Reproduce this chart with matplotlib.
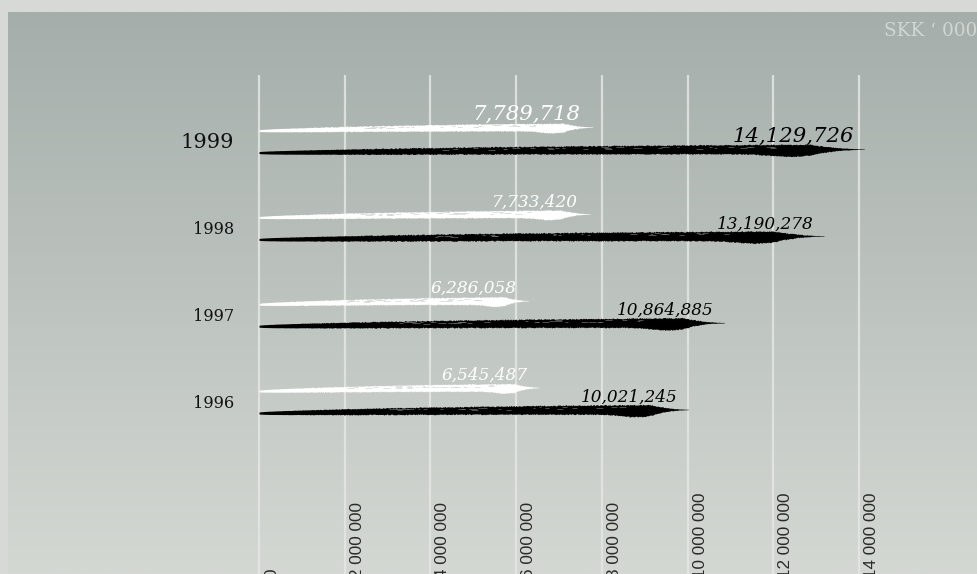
import numpy as np
import matplotlib
matplotlib.use("Agg")
import matplotlib.pyplot as plt
from matplotlib import transforms

# ---- data -------------------------------------------------------------
years = ["1996", "1997", "1998", "1999"]
light_values = [6545487, 6286058, 7733420, 7789718]      # white strokes
dark_values = [10021245, 10864885, 13190278, 14129726]   # black strokes
tick_values = [0, 2000000, 4000000, 6000000, 8000000, 10000000, 12000000, 14000000]
tick_labels = ["0", "2 000 000", "4 000 000", "6 000 000", "8 000 000",
               "10 000 000", "12 000 000", "14 000 000"]
unit_label = "SKK \u2018 000"

# ---- canvas -----------------------------------------------------------
W, H, DPI = 978, 574, 100
fig = plt.figure(figsize=(W / DPI, H / DPI), dpi=DPI, facecolor="#d7d9d6")

# gradient panel
bg = fig.add_axes([8 / W, 0, (W - 8) / W, (H - 12) / H])
top_c = np.array([165, 174, 171]) / 255
bot_c = np.array([212, 216, 211]) / 255
g = np.linspace(0, 1, 256)[:, None]
grad = top_c[None, None, :] * (1 - g[..., None]) + bot_c[None, None, :] * g[..., None]
bg.imshow(grad, aspect="auto", extent=[0, 1, 0, 1], interpolation="bilinear")
bg.set_axis_off()

ax = fig.add_axes([0, 0, 1, 1])
ax.patch.set_alpha(0)
ax.set_axis_off()

PX_X = 600 / 14e6          # pixels per unit on the value axis
PX_Y = 86.8                # pixels between year groups
x0 = -259 / PX_X
ax.set_xlim(x0, x0 + W / PX_X)
ax.set_ylim((398.5 - H) / PX_Y, 398.5 / PX_Y)


def ypx(p):
    """y data coordinate of a pixel row counted from the top."""
    return (398.5 - p) / PX_Y


def off(dx=0, dy=0):
    return transforms.offset_copy(ax.transData, fig=fig, x=dx, y=dy, units="dots")


# grid lines
ax.vlines(tick_values, ypx(H + 2), ypx(75), colors="#e4e7e4", lw=1.6, alpha=0.85, zorder=1)

# tick labels, rotated and running off the bottom edge
for v, lab in zip(tick_values, tick_labels):
    ax.text(v, ypx(578.5), lab, rotation=90, ha="center", va="bottom",
            fontsize=12.3, family="Liberation Sans", color="#2a2a2a",
            transform=off(12.5, 0), zorder=3)


def noise(n, seed, scale):
    i = np.arange(n) + seed * 1000.0
    h = np.sin(i * 12.9898 + seed * 78.233) * 43758.5453
    return (h - np.floor(h)) * scale


def brush(value, yc, tmax, color, seed, speck):
    n = 800
    s = np.linspace(0, 1, n)
    x = s * value
    t = tmax * (0.12 + 0.88 * s ** 0.45)
    taper = np.clip((1 - s) / 0.09, 0, 1) ** 1.9
    t = t * taper + 0.5 * (s < 1)
    bulge = 0.25 * tmax * np.exp(-((s - 0.875) / 0.045) ** 2) * np.clip((1 - s) / 0.09, 0, 1)
    sag = 3.5 * (1 - s) ** 2
    rough = np.clip(s * 4, 0, 1) * np.clip((1 - s) / 0.06, 0, 1)
    top = -sag + t / 2 + (noise(n, seed, 1.2) - 0.6) * rough
    bot = -sag - t / 2 - bulge - (noise(n, seed + 7, 1.1) - 0.55) * rough
    ax.fill_between(x, yc + bot / PX_Y, yc + top / PX_Y, color=color, lw=0, zorder=4)
    # dry-brush flecks along the upper part of the stroke
    idx = np.where((s > 0.3) & (s < 0.85) & (noise(n, seed + 3, 1.0) > 0.93))[0]
    for i in idx:
        L = (2 + 6 * noise(1, seed + i, 1.0)[0]) / PX_X
        yy = yc + (-sag[i] + t[i] * (0.05 + 0.3 * noise(1, seed + i + 5, 1.0)[0])) / PX_Y
        ax.plot([x[i], x[i] + L], [yy, yy], color=speck, lw=0.6, alpha=0.7,
                solid_capstyle="butt", zorder=5)


for k, (yr, lv, dv) in enumerate(zip(years, light_values, dark_values)):
    big = yr == "1999"
    yw = k + 11 / PX_Y
    yb = k - 11 / PX_Y
    brush(lv, yw, 7.5, "white", 2 * k + 1, "#c9cfcc")
    brush(dv, yb, 9.5, "black", 2 * k + 2, "#7d8482")
    fs = 15.3 if big else 12.2
    ax.text(lv, yw, f"{lv:,}", ha="right", va="baseline", fontsize=fs,
            family="DejaVu Serif", style="italic", color="white",
            transform=off(-12, 7.5), zorder=6)
    ax.text(dv, yb, f"{dv:,}", ha="right", va="baseline", fontsize=fs,
            family="DejaVu Serif", style="italic", color="black",
            transform=off(-11, 7.5), zorder=6)
    ax.text(0, k, yr, ha="right", va="center", fontsize=15 if big else 11.6,
            family="DejaVu Serif", color="#111111", transform=off(-25, -4.5), zorder=6)

fig.text(977 / W, 1 - 31 / H, unit_label, ha="right", va="center", fontsize=13.3,
         family="DejaVu Serif", color="#d2d6d2")

fig.savefig("out.png", dpi=DPI, facecolor=fig.get_facecolor())
